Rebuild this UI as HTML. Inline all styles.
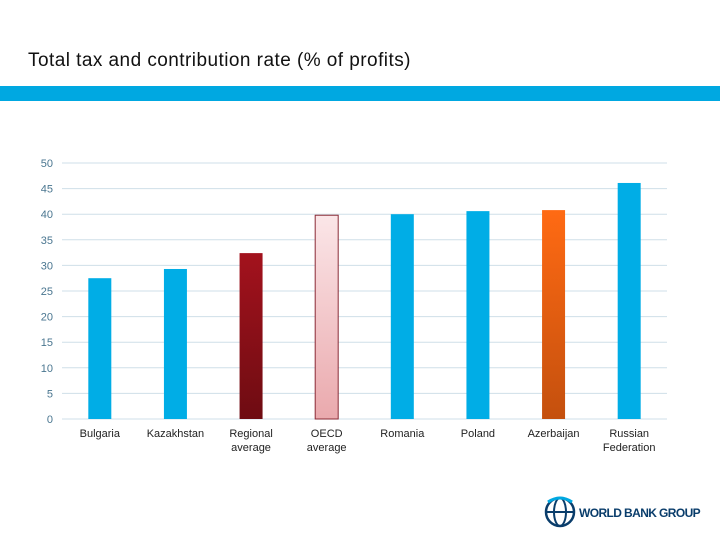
<!DOCTYPE html>
<html><head><meta charset="utf-8"><style>
body{margin:0;width:720px;height:540px;background:#fff;font-family:"Liberation Sans",sans-serif;overflow:hidden;position:relative}
.title{position:absolute;left:28px;top:50px;font-size:19px;color:#111;letter-spacing:0.45px}
.band{position:absolute;left:0;top:86px;width:720px;height:15px;background:#00a8e1}
</style></head><body>
<div class="title">Total tax and contribution rate (% of profits)</div>
<div class="band"></div>
<svg id="chart" width="720" height="540" style="position:absolute;left:0;top:0">
<defs>
<linearGradient id="gReg" x1="0" y1="0" x2="0" y2="1"><stop offset="0" stop-color="#a3121d"/><stop offset="1" stop-color="#6e0c12"/></linearGradient>
<linearGradient id="gOecd" x1="0" y1="0" x2="0" y2="1"><stop offset="0" stop-color="#fbe6e8"/><stop offset="1" stop-color="#eaa9ad"/></linearGradient>
<linearGradient id="gAze" x1="0" y1="0" x2="0" y2="1"><stop offset="0" stop-color="#ff6a13"/><stop offset="1" stop-color="#c4500e"/></linearGradient>
</defs>
</svg>
<svg width="170" height="45" style="position:absolute;left:540px;top:490px">
<circle cx="20" cy="22" r="14" fill="none" stroke="#0a3d6b" stroke-width="2.5"/>
<ellipse cx="20" cy="22" rx="6" ry="14" fill="none" stroke="#0a3d6b" stroke-width="2"/>
<line x1="6" y1="22" x2="34" y2="22" stroke="#0a3d6b" stroke-width="2"/>
<path d="M8 12 Q20 4 32 12" fill="none" stroke="#00a8e1" stroke-width="3"/>
<text x="39" y="27" font-size="12" font-weight="bold" fill="#0a3d6b" font-family="Liberation Sans, sans-serif" letter-spacing="-0.6">WORLD BANK GROUP</text>
</svg>
<script>
const categories=["Bulgaria","Kazakhstan","Regional|average","OECD|average","Romania","Poland","Azerbaijan","Russian|Federation"];
const values=[27.5,29.3,32.4,39.8,40.0,40.6,40.8,46.1];
const ticks=[0,5,10,15,20,25,30,35,40,45,50];
const fills=["#00ade6","#00ade6","url(#gReg)","url(#gOecd)","#00ade6","#00ade6","url(#gAze)","#00ade6"];
const svg=document.getElementById('chart');
const NS="http://www.w3.org/2000/svg";
const y0=419,y1=163,x0=62,x1=667,vmax=50;
const Y=v=>y0-(v/vmax)*(y0-y1);
const step=(x1-x0)/categories.length;
const X=i=>x0+step*(i+0.5);
ticks.forEach(t=>{
 const l=document.createElementNS(NS,'line');
 l.setAttribute('x1',x0);l.setAttribute('x2',x1);l.setAttribute('y1',Y(t));l.setAttribute('y2',Y(t));
 l.setAttribute('stroke','#cfdfe8');l.setAttribute('stroke-width','1');
 
 
 svg.appendChild(l);
 const tx=document.createElementNS(NS,'text');
 tx.setAttribute('x',53);tx.setAttribute('y',Y(t)+4);tx.setAttribute('text-anchor','end');
 tx.setAttribute('font-size','11');tx.setAttribute('fill','#4a7690');tx.textContent=t;
 
 
 svg.appendChild(tx);
});
values.forEach((v,i)=>{
 const r=document.createElementNS(NS,'rect');
 const cx=X(i),w=23;
 r.setAttribute('x',cx-w/2);r.setAttribute('y',Y(v));r.setAttribute('width',w);r.setAttribute('height',y0-Y(v));
 r.setAttribute('fill',fills[i]);
 if(i===3){r.setAttribute('stroke','#8a2a35');r.setAttribute('stroke-width','1');}
 
 
 svg.appendChild(r);
 categories[i].split('|').forEach((ln,k)=>{
  const t=document.createElementNS(NS,'text');
  t.setAttribute('x',cx);t.setAttribute('y',437+k*14);t.setAttribute('text-anchor','middle');
  t.setAttribute('font-size','11');t.setAttribute('fill','#222');t.textContent=ln;
  
  
  svg.appendChild(t);
 });
});
</script>
</body></html>
